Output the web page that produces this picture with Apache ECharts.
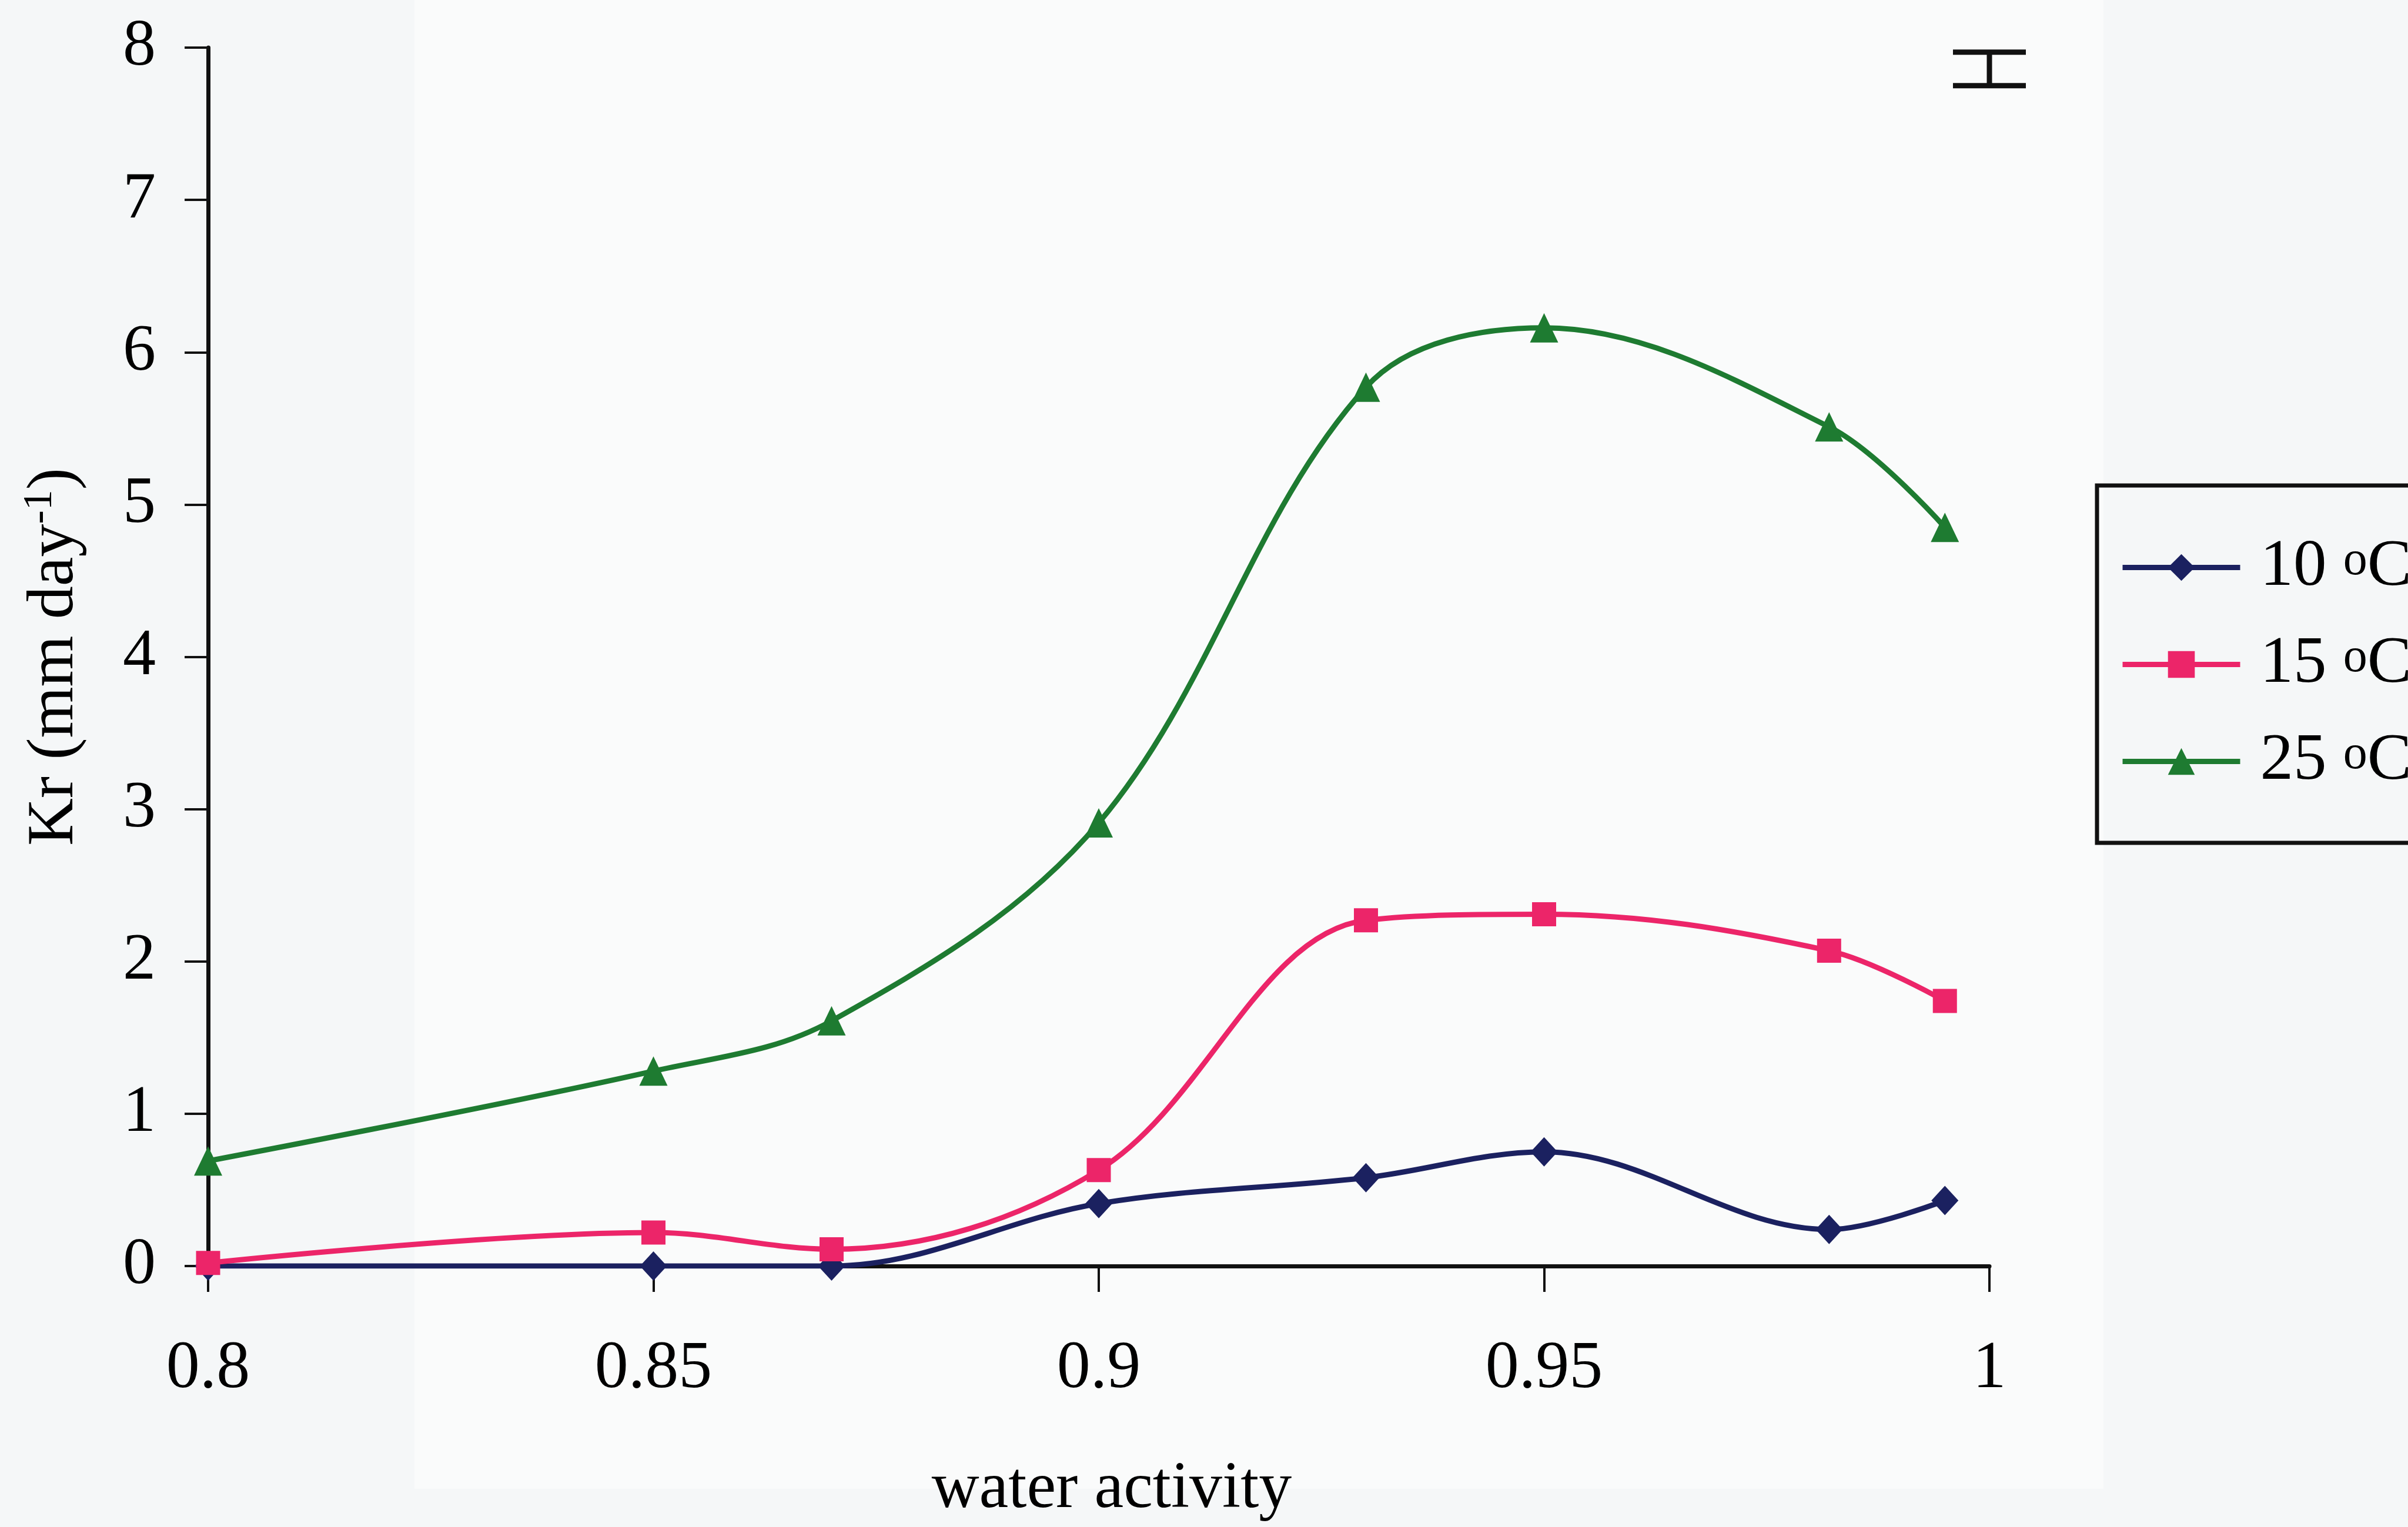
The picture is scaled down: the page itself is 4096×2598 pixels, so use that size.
<!DOCTYPE html>
<html>
<head>
<meta charset="utf-8">
<script src="https://cdn.jsdelivr.net/npm/echarts@6/dist/echarts.min.js"></script>
<style>
  html, body { margin: 0; padding: 0; background: #f5f7f8; }
  #chart { width: 4096px; height: 2598px; }
</style>
</head>
<body>
<div id="chart"></div>
<script>
// Radial growth rate (Kr) against water activity at three temperatures
const waterActivity = [0.8, 0.85, 0.87, 0.9, 0.93, 0.95, 0.982, 0.995];
const kr10 = [0, 0, 0, 0.41, 0.58, 0.75, 0.24, 0.43];
const kr15 = [0.02, 0.22, 0.11, 0.63, 2.27, 2.31, 2.07, 1.74];
const kr25 = [0.69, 1.28, 1.61, 2.91, 5.77, 6.16, 5.51, 4.85];
const seriesNames = ['10 oC', '15 oC', '25 oC'];

// Tick positions / labels
const xTicks = [0.8, 0.85, 0.9, 0.95, 1];
const yTicks = [0, 1, 2, 3, 4, 5, 6, 7, 8];

// Representative standard-error bar shown at the top right
const errBarX = [1.0];
const errBarLow = [7.75];
const errBarHigh = [7.97];

const FONT = '"Liberation Serif", "Times New Roman", serif';
const colors = ['#1b2160', '#ec2569', '#1e7b31'];
const LINE_W = 9;

const pairs = ys => waterActivity.map((x, i) => [x, ys[i]]);
const errData = errBarX.map((x, i) => [x, errBarLow[i], errBarHigh[i]]);

const chart = echarts.init(document.getElementById('chart'), null, { renderer: 'canvas' });

const lineSeries = (name, ys, color, symbol, size) => ({
  name,
  type: 'line',
  data: pairs(ys),
  smooth: 0.35,
  symbol,
  symbolSize: size,
  showSymbol: true,
  lineStyle: { color, width: LINE_W },
  itemStyle: { color },
  emphasis: { disabled: true },
  animation: false
});

chart.setOption({
  backgroundColor: 'transparent',
  animation: false,
  graphic: [{
    type: 'rect', z: -10, silent: true,
    shape: { x: 705, y: 0, width: 2873, height: 2533 },
    style: { fill: '#fafbfb' }
  }],
  grid: { left: 354, right: 712, top: 81, bottom: 444, containLabel: false },
  xAxis: {
    type: 'value', min: 0.8, max: 1, interval: 0.05,
    name: 'water activity',
    nameLocation: 'middle', nameGap: 325,
    nameTextStyle: { fontFamily: FONT, fontSize: 112, color: '#000', padding: [0, 0, 0, 44] },
    axisLine: { show: true, onZero: false, lineStyle: { color: '#111', width: 7 } },
    axisTick: { show: true, length: 44, lineStyle: { color: '#111', width: 4 }, customValues: xTicks },
    axisLabel: {
      fontFamily: FONT, fontSize: 114, color: '#000', margin: 119,
      customValues: xTicks,
      formatter: v => String(v)
    },
    splitLine: { show: false }
  },
  yAxis: {
    type: 'value', min: 0, max: 8, interval: 1,
    name: 'Kr (mm day{sup|-1})',
    nameLocation: 'middle', nameGap: 200,
    nameTextStyle: {
      fontFamily: FONT, fontSize: 112, color: '#000',
      rich: { sup: { fontFamily: FONT, fontSize: 70, color: '#000', padding: [0, 0, 50, 0] } }
    },
    axisLine: { show: true, lineStyle: { color: '#111', width: 7 } },
    axisTick: { show: true, length: 40, lineStyle: { color: '#111', width: 4 }, customValues: yTicks },
    axisLabel: {
      fontFamily: FONT, fontSize: 112, color: '#000', margin: 89,
      customValues: yTicks
    },
    splitLine: { show: false }
  },
  legend: {
    data: seriesNames,
    orient: 'vertical',
    left: 3567, top: 826,
    itemWidth: 200, itemHeight: 57, itemGap: 52,
    padding: [83, 140, 82, 39],
    borderColor: '#111', borderWidth: 7,
    backgroundColor: 'transparent',
    selectedMode: false,
    lineStyle: { width: LINE_W },
    formatter: name => name.replace(' oC', ' {sup|o}C'),
    textStyle: {
      fontFamily: FONT, fontSize: 113, color: '#000', padding: [0, 0, 0, 29],
      rich: { sup: { fontFamily: FONT, fontSize: 82, color: '#000', padding: [0, 0, 20, 0] } }
    }
  },
  series: [
    lineSeries(seriesNames[0], kr10, colors[0], 'diamond', [46, 50]),
    lineSeries(seriesNames[1], kr15, colors[1], 'rect', 41),
    lineSeries(seriesNames[2], kr25, colors[2], 'triangle', [48, 50]),
    {
      name: 'SE',
      type: 'custom',
      data: errData,
      silent: true,
      clip: false,
      renderItem: (params, api) => {
        const x = api.value(0);
        const lo = api.coord([x, api.value(1)]);
        const hi = api.coord([x, api.value(2)]);
        const hw = 62;
        const st = { stroke: '#111', lineWidth: 9 };
        return {
          type: 'group',
          children: [
            { type: 'line', shape: { x1: lo[0], y1: lo[1], x2: hi[0], y2: hi[1] }, style: st },
            { type: 'line', shape: { x1: hi[0] - hw, y1: hi[1], x2: hi[0] + hw, y2: hi[1] }, style: st },
            { type: 'line', shape: { x1: lo[0] - hw, y1: lo[1], x2: lo[0] + hw, y2: lo[1] }, style: st }
          ]
        };
      }
    }
  ]
});
</script>
</body>
</html>
